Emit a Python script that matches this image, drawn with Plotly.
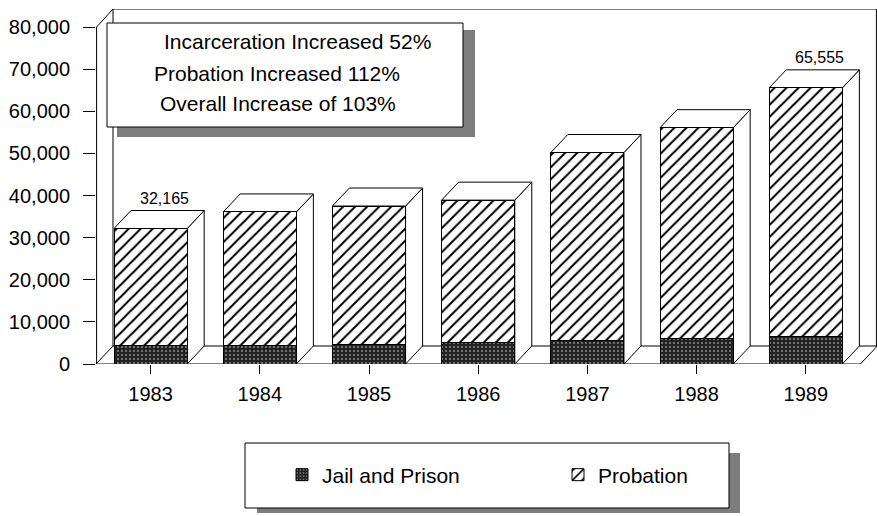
import plotly.graph_objects as go

# ---------------- data ----------------
years = ["1983", "1984", "1985", "1986", "1987", "1988", "1989"]
jail_prison = [4300, 4500, 4700, 5000, 5600, 6000, 6540]
probation = [27865, 31600, 32800, 33900, 44600, 50100, 59015]
labelled_years = ["1983", "1989"]
y_ticks = [0, 10000, 20000, 30000, 40000, 50000, 60000, 70000, 80000]
box_lines = ["Incarceration Increased 52%", "Probation Increased 112%", "Overall Increase of 103%"]

# ---------------- geometry (pixels of the 877x516 canvas) ----------------
W, H = 877, 516
ML, MT, MB = 96, 9, 152
PLOT_W = W - ML
PLOT_H = H - MT - MB
CAT_PX = 109.2                     # pixels per category
XMIN = -0.5
XMAX = XMIN + PLOT_W / CAT_PX
PX_PER_UNIT = 337.0 / 80000.0      # vertical scale
DEPTH_X_PX, DEPTH_Y_PX = 17, 18
DY = DEPTH_Y_PX / PX_PER_UNIT      # depth in data units
YMAX = 80000 + DY
BAR_W = 0.67
FONT = "Liberation Sans, Arial, Helvetica, sans-serif"


def xp(c):
    """category coordinate -> paper x"""
    return (c - XMIN) / (XMAX - XMIN)


def pxx(p):
    return (p - ML) / PLOT_W


def pxy(p):
    return (H - MB - p) / PLOT_H


DXP = DEPTH_X_PX / PLOT_W

totals = [j + p for j, p in zip(jail_prison, probation)]

fig = go.Figure()
fig.add_trace(go.Bar(
    x=years, y=jail_prison, name="Jail and Prison",
    marker=dict(color="#262626",
                line=dict(color="black", width=1),
                pattern=dict(shape=".", bgcolor="#222222", fgcolor="#8c8c8c",
                             size=4, solidity=0.2, fillmode="replace")),
))
fig.add_trace(go.Bar(
    x=years, y=probation, name="Probation",
    marker=dict(color="white",
                line=dict(color="black", width=1),
                pattern=dict(shape="/", bgcolor="white", fgcolor="black",
                             size=8.5, solidity=0.24, fillmode="replace")),
))

shapes = []
line_k = dict(color="black", width=1)

# floor
f0 = xp(-0.5)
f1 = xp(len(years) - 0.5)
shapes.append(dict(type="path", xref="paper", yref="y", layer="below",
                   path=f"M{f0},0 L{f0 + DXP},{DY} L{f1 + DXP},{DY} L{f1},0 Z",
                   fillcolor="white", line=line_k))
# back wall
bw = f0 + DXP
right = 1 - 0.6 / PLOT_W
shapes.append(dict(type="path", xref="paper", yref="y", layer="below",
                   path=f"M{bw},{DY} L{bw},{80000 + DY} L{right},{80000 + DY} L{right},{DY}",
                   line=line_k))
# front axis line + corner diagonal
shapes.append(dict(type="path", xref="paper", yref="y", layer="below",
                   path=f"M{0.6 / PLOT_W},0 L{0.6 / PLOT_W},80000 L{bw},{80000 + DY}",
                   line=line_k))

# 3D side & top faces of each bar
for i, t in enumerate(totals):
    l = xp(i - BAR_W / 2)
    r = xp(i + BAR_W / 2)
    shapes.append(dict(type="path", xref="paper", yref="y", layer="below",
                       path=f"M{r},0 L{r},{t} L{r + DXP},{t + DY} L{r + DXP},{DY} Z",
                       fillcolor="white", line=line_k))
    shapes.append(dict(type="path", xref="paper", yref="y", layer="below",
                       path=f"M{l},{t} L{l + DXP},{t + DY} L{r + DXP},{t + DY} L{r},{t} Z",
                       fillcolor="white", line=line_k))

# text box with shadow
shapes.append(dict(type="rect", xref="paper", yref="paper", layer="above",
                   x0=pxx(117), x1=pxx(475), y0=pxy(137), y1=pxy(30),
                   fillcolor="#7d7d7d", line=dict(width=0)))
shapes.append(dict(type="rect", xref="paper", yref="paper", layer="above",
                   x0=pxx(107), x1=pxx(463), y0=pxy(127), y1=pxy(23),
                   fillcolor="white", line=line_k))
# legend box with shadow
shapes.append(dict(type="rect", xref="paper", yref="paper", layer="above",
                   x0=pxx(257), x1=pxx(740), y0=pxy(513), y1=pxy(453),
                   fillcolor="#7d7d7d", line=dict(width=0)))
shapes.append(dict(type="rect", xref="paper", yref="paper", layer="above",
                   x0=pxx(245), x1=pxx(729), y0=pxy(508), y1=pxy(443),
                   fillcolor="white", line=line_k))

annotations = []
box_pos = [(297, 41), (277, 74), (278, 104)]
for txt, (ax, ay) in zip(box_lines, box_pos):
    annotations.append(dict(text=txt, xref="paper", yref="paper",
                            x=pxx(ax), y=pxy(ay), showarrow=False,
                            xanchor="center", yanchor="middle",
                            font=dict(family=FONT, size=21, color="black")))
for i, (yr, t) in enumerate(zip(years, totals)):
    if yr in labelled_years:
        annotations.append(dict(text=f"{t:,}", x=i, y=t, xref="x", yref="y",
                                showarrow=False, xshift=14, yshift=DEPTH_Y_PX + 12,
                                xanchor="center", yanchor="middle",
                                font=dict(family=FONT, size=16, color="black")))

fig.update_layout(
    width=W, height=H,
    margin=dict(l=ML, r=0, t=MT, b=MB, autoexpand=False),
    paper_bgcolor="white", plot_bgcolor="rgba(0,0,0,0)",
    barmode="stack", bargap=1 - BAR_W,
    font=dict(family=FONT, size=20, color="black"),
    shapes=shapes, annotations=annotations,
    showlegend=True,
    legend=dict(orientation="h", x=pxx(282), xanchor="left",
                y=pxy(475), yanchor="middle",
                bgcolor="rgba(0,0,0,0)", borderwidth=0,
                font=dict(family=FONT, size=21, color="black"),
                entrywidth=231, entrywidthmode="pixels",
                traceorder="normal"),
    xaxis=dict(type="category", range=[XMIN, XMAX], showgrid=False, zeroline=False,
               showline=False, ticks="outside", ticklen=9, tickcolor="black",
               tickwidth=1, tickfont=dict(family=FONT, size=20), ticklabelstandoff=3,
               fixedrange=True),
    yaxis=dict(range=[0, YMAX], tickvals=y_ticks, tickformat=",",
               showgrid=False, zeroline=False, showline=False,
               ticks="outside", ticklen=12, tickcolor="black", tickwidth=1,
               tickfont=dict(family=FONT, size=20), ticklabelstandoff=9,
               fixedrange=True),
)

fig.write_html("out.html", config={"displayModeBar": False},
               post_script="document.body.style.margin='0';")
